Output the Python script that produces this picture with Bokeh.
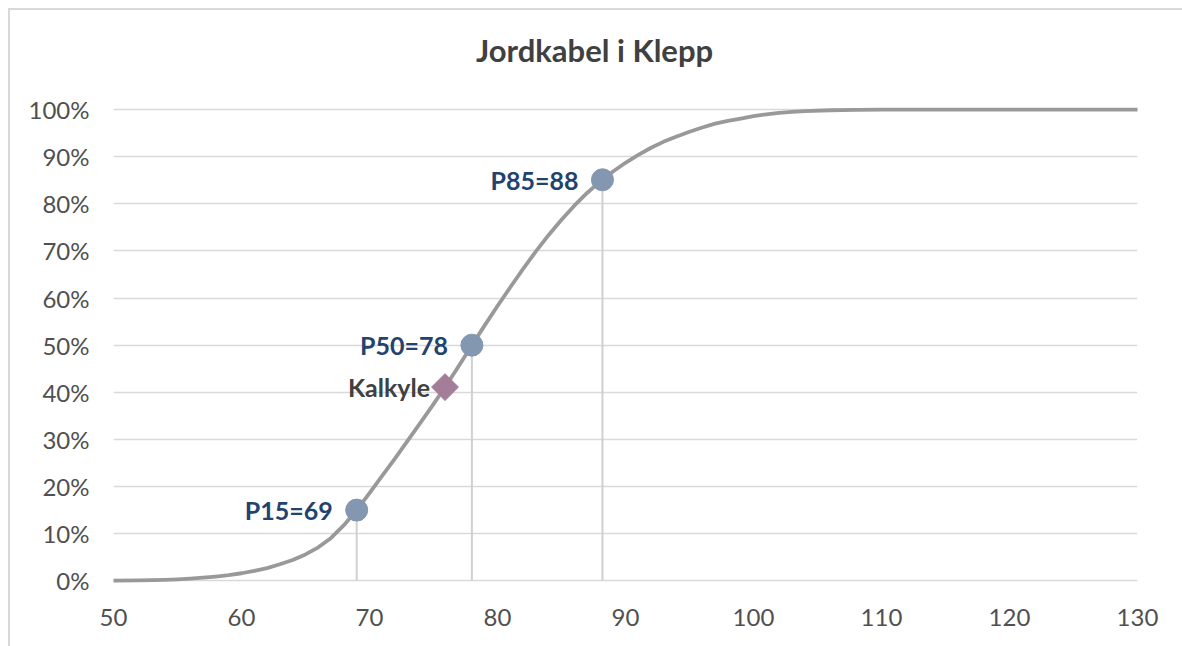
from bokeh.plotting import figure
from bokeh.models import Range1d, FixedTicker, NumeralTickFormatter, ColumnDataSource
from bokeh.core.properties import value
from bokeh.embed import file_html
from bokeh.resources import INLINE

# ---- data ----
curve_x = [50, 52, 54, 55, 56, 57, 58, 59, 60, 61, 62, 63, 64, 65, 66, 67, 68, 69, 70,
           71, 72, 73, 74, 75, 76, 77, 78, 79, 80, 81, 82, 83, 84, 85, 86, 87, 88, 89,
           90, 91, 92, 93, 94, 95, 96, 97, 98, 99, 100, 101, 102, 103, 104, 106, 108,
           110, 120, 130]
curve_pct = [0.05, 0.1, 0.2, 0.3, 0.45, 0.65, 0.9, 1.2, 1.6, 2.1, 2.7, 3.5, 4.4, 5.6, 7.1,
             9.1, 11.8, 15.0, 18.6, 22.3, 26.0, 29.8, 33.6, 37.5, 41.5, 45.7, 50.0, 54.2,
             58.3, 62.3, 66.2, 69.9, 73.4, 76.6, 79.6, 82.3, 84.7, 86.8, 88.7, 90.4, 91.9,
             93.2, 94.3, 95.3, 96.2, 97.0, 97.6, 98.1, 98.6, 99.0, 99.3, 99.5, 99.65, 99.85,
             99.95, 100, 100, 100]

point_labels = ["P15=69", "P50=78", "P85=88"]
point_x = [69.0, 78.0, 88.2]
point_pct = [15.0, 50.0, 85.1]

calc_label = ["Kalkyle"]
calc_x = [75.9]
calc_pct = [41.1]

chart_title = "Jordkabel i Klepp"
x_ticks = [50, 60, 70, 80, 90, 100, 110, 120, 130]
y_ticks_pct = [0, 10, 20, 30, 40, 50, 60, 70, 80, 90, 100]

FONT = "Lato"

p = figure(width=1174, height=638, output_backend="svg", toolbar_location=None,
           x_range=Range1d(50, 130), y_range=Range1d(-0.01, 1.2102),
           min_border_left=103, min_border_right=47, min_border_top=0, min_border_bottom=63)
p.margin = (8, 0, 0, 8)
p.styles = {"border-left": "2px solid #d9d9d9", "border-top": "2px solid #d9d9d9"}
p.outline_line_color = None
p.background_fill_color = "white"
p.border_fill_color = "white"

# grid
p.xgrid.grid_line_color = None
p.ygrid.grid_line_color = "#d9d9d9"
p.ygrid.grid_line_width = 1.5
p.ygrid.ticker = FixedTicker(ticks=[v / 100 for v in y_ticks_pct])

# axes
p.xaxis.ticker = FixedTicker(ticks=x_ticks)
p.yaxis.ticker = FixedTicker(ticks=[v / 100 for v in y_ticks_pct])
p.yaxis.formatter = NumeralTickFormatter(format="0%")
for ax in (p.xaxis[0], p.yaxis[0]):
    ax.axis_line_color = None
    ax.major_tick_line_color = None
    ax.minor_tick_line_color = None
    ax.major_label_text_font = FONT
    ax.major_label_text_font_size = "24px"
    ax.major_label_text_color = "#505050"
p.xaxis.major_label_standoff = 17
p.yaxis.major_label_standoff = 18

# drop lines
src_pts = ColumnDataSource(dict(x=point_x, y=[v / 100 for v in point_pct],
                                y0=[0] * len(point_x), label=point_labels))
p.segment(x0="x", y0="y0", x1="x", y1="y", source=src_pts, line_color="#d0d0d0", line_width=2)

# curve
p.line(curve_x, [v / 100 for v in curve_pct], line_color="#999999", line_width=3.8,
       line_join="round", line_cap="round")

# percentile points
p.scatter(x="x", y="y", source=src_pts, marker="circle", size=22,
          fill_color="#8497b0", line_color="#8497b0")
p.text(x="x", y="y", text="label", source=src_pts, x_offset=-24,
       text_align="right", text_baseline="middle",
       text_font=value(FONT), text_font_style="bold", text_font_size="25px",
       text_color="#23436f")

# Kalkyle point
src_calc = ColumnDataSource(dict(x=calc_x, y=[v / 100 for v in calc_pct], label=calc_label))
p.scatter(x="x", y="y", source=src_calc, marker="square", angle=0.785398, size=19,
          fill_color="#a47d98", line_color="#a47d98")
p.text(x="x", y="y", text="label", source=src_calc, x_offset=-15,
       text_align="right", text_baseline="middle",
       text_font=value(FONT), text_font_style="bold", text_font_size="25px",
       text_color="#404040")

# title (drawn inside the frame's upper area)
p.text(x=[87.58], y=[1.1274], text=[chart_title], text_align="center",
       text_baseline="middle", text_font=value(FONT), text_font_style="bold",
       text_font_size="31px", text_color="#404040")

open("out.html", "w").write(file_html(p, INLINE))
